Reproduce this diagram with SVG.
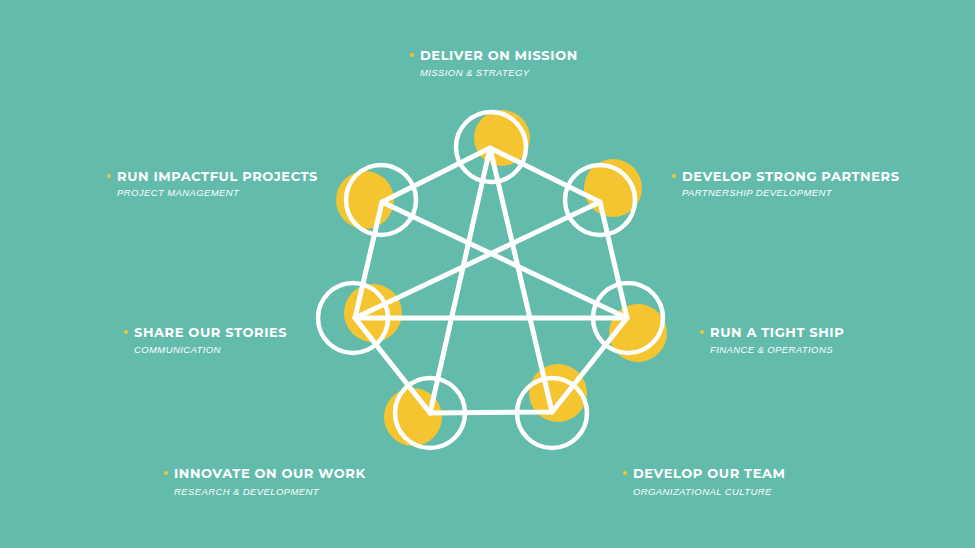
<svg xmlns="http://www.w3.org/2000/svg" width="975" height="548" viewBox="0 0 975 548">
<style>
.y{fill:#f4c531}
.r{fill:none;stroke:#fff;stroke-width:4.5}
.l{stroke:#fff;stroke-width:5;stroke-linejoin:round;stroke-linecap:round;fill:none}
.t{font-family:"Montserrat","Liberation Sans",sans-serif;font-weight:bold;font-size:13px;fill:#fff;letter-spacing:0.6px}
.s{font-family:"Liberation Sans",sans-serif;font-style:italic;font-size:9.5px;fill:#fff;letter-spacing:0.4px}
.d{fill:#f4c531}
</style>
<rect width="975" height="548" fill="#63bbac"/>
<g id="yellow">
<circle class="y" cx="502" cy="138" r="28"/>
<circle class="y" cx="613" cy="188" r="29"/>
<circle class="y" cx="638" cy="333" r="29"/>
<circle class="y" cx="558" cy="393" r="29"/>
<circle class="y" cx="413" cy="417" r="29"/>
<circle class="y" cx="373" cy="313" r="29"/>
<circle class="y" cx="365" cy="200" r="29"/>
</g>
<g id="connectors" class="l">
<polygon points="490,148 600,202 627,318 552,412 430,413 355,318 382,202"/>
<polyline points="430,413 490,148 552,412"/>
<line x1="382" y1="202" x2="627" y2="318"/>
<line x1="600" y1="202" x2="355" y2="318"/>
<line x1="355" y1="318" x2="627" y2="318"/>
</g>
<g id="n1"><circle class="r" cx="491" cy="147" r="35"/><circle class="d" cx="412" cy="55" r="2"/><text class="t" x="420" y="60">DELIVER ON MISSION</text><text class="s" x="420" y="76">MISSION &amp; STRATEGY</text></g>
<g id="n2"><circle class="r" cx="600" cy="200" r="35"/><circle class="d" cx="674" cy="176" r="2"/><text class="t" x="682" y="181">DEVELOP STRONG PARTNERS</text><text class="s" x="682" y="196">PARTNERSHIP DEVELOPMENT</text></g>
<g id="n3"><circle class="r" cx="628" cy="318" r="35"/><circle class="d" cx="702" cy="332" r="2"/><text class="t" x="710" y="337">RUN A TIGHT SHIP</text><text class="s" x="710" y="353">FINANCE &amp; OPERATIONS</text></g>
<g id="n4"><circle class="r" cx="552" cy="413" r="35"/><circle class="d" cx="625" cy="473" r="2"/><text class="t" x="633" y="478">DEVELOP OUR TEAM</text><text class="s" x="633" y="495">ORGANIZATIONAL CULTURE</text></g>
<g id="n5"><circle class="r" cx="430" cy="413" r="35"/><circle class="d" cx="166" cy="473" r="2"/><text class="t" x="174" y="478">INNOVATE ON OUR WORK</text><text class="s" x="174" y="495">RESEARCH &amp; DEVELOPMENT</text></g>
<g id="n6"><circle class="r" cx="353" cy="318" r="35"/><circle class="d" cx="126" cy="332" r="2"/><text class="t" x="134" y="337">SHARE OUR STORIES</text><text class="s" x="134" y="353">COMMUNICATION</text></g>
<g id="n7"><circle class="r" cx="381" cy="200" r="35"/><circle class="d" cx="109" cy="176" r="2"/><text class="t" x="117" y="181">RUN IMPACTFUL PROJECTS</text><text class="s" x="117" y="196">PROJECT MANAGEMENT</text></g>
</svg>
